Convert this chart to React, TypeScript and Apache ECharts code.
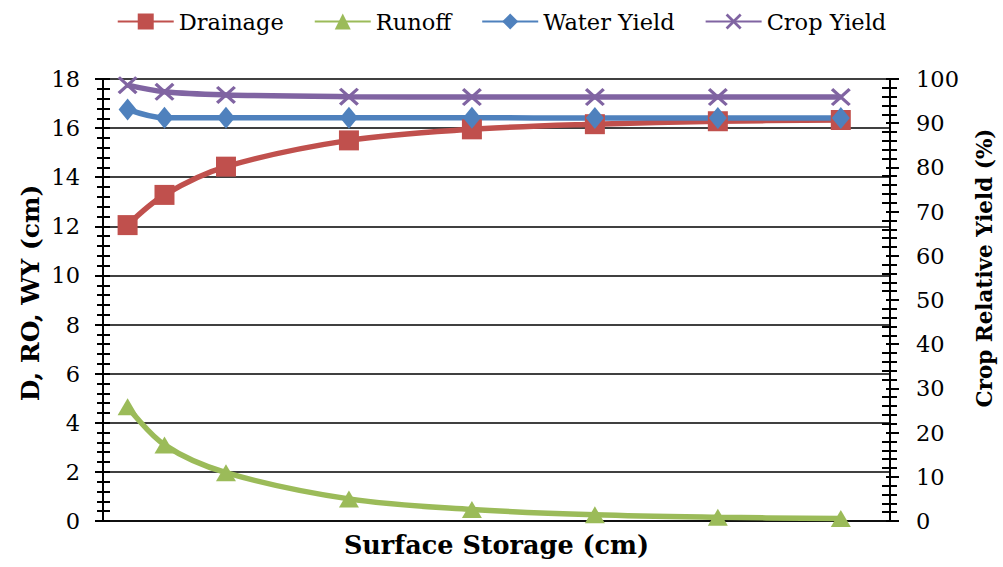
import React, { useEffect, useRef } from "react";
import * as echarts from "echarts";

const storage = [0.2, 0.5, 1, 2, 3, 4, 5, 6];
const drainage = [12.05, 13.28, 14.43, 15.5, 15.95, 16.16, 16.28, 16.33];
const runoff = [4.65, 3.1, 1.97, 0.9, 0.47, 0.25, 0.15, 0.1];
const waterYield = [16.76, 16.42, 16.42, 16.42, 16.42, 16.41, 16.41, 16.41];
const cropYield = [98.6, 97.1, 96.4, 96.0, 95.9, 95.9, 95.9, 95.9];
const seriesNames = ["Drainage", "Runoff", "Water Yield", "Crop Yield"];
const leftTitle = "D, RO, WY (cm)";
const rightTitle = "Crop Relative Yield (%)";
const bottomTitle = "Surface Storage (cm)";

const FONT = "DejaVu Serif";
const X_SYMBOL = "path://M0,1.2L1.2,0L10,8.8L8.8,10Z M8.8,0L10,1.2L1.2,10L0,8.8Z";

export default function App() {
  const ref = useRef<HTMLDivElement>(null);
  useEffect(() => {
    if (!ref.current) return;
    const chart = echarts.init(ref.current, null, { renderer: "svg" });
    const pair = (ys: number[]) => storage.map((x, i) => [x, ys[i]]);
    const lineSeries = (
      name: string,
      ys: number[],
      color: string,
      symbol: string,
      size: number | number[],
      yAxisIndex: number
    ) => ({
      name,
      type: "line",
      data: pair(ys),
      yAxisIndex,
      smooth: 0.35,
      symbol,
      symbolSize: size,
      lineStyle: { color, width: 5.5 },
      itemStyle: { color },
      z: 3,
    });
    const black = "#000";
    chart.setOption({
      animation: false,
      grid: { left: 103, right: 113, top: 79, bottom: 46, containLabel: false },
      legend: {
        top: 5,
        left: "center",
        itemWidth: 56,
        itemHeight: 20,
        itemGap: 30,
        data: seriesNames,
        textStyle: { fontFamily: FONT, fontSize: 22.5, color: black },
      },
      graphic: [
        {
          type: "text",
          x: 30,
          y: 293,
          rotation: Math.PI / 2,
          style: {
            text: leftTitle,
            align: "center",
            verticalAlign: "middle",
            fontFamily: FONT,
            fontSize: 25,
            fontWeight: "bold",
            fill: black,
          },
        },
        {
          type: "text",
          x: 984,
          y: 268,
          rotation: Math.PI / 2,
          style: {
            text: rightTitle,
            align: "center",
            verticalAlign: "middle",
            fontFamily: FONT,
            fontSize: 21.5,
            fontWeight: "bold",
            fill: black,
          },
        },
      ],
      xAxis: {
        type: "value",
        min: 0,
        max: 6.4,
        name: bottomTitle,
        nameLocation: "middle",
        nameGap: 11,
        nameTextStyle: {
          fontFamily: FONT,
          fontSize: 25.5,
          fontWeight: "bold",
          color: black,
          verticalAlign: "top",
        },
        axisLine: { show: true, lineStyle: { color: black, width: 1.5 } },
        axisTick: { show: false },
        axisLabel: { show: false },
        splitLine: { show: false },
      },
      yAxis: [
        {
          type: "value",
          position: "left",
          min: 0,
          max: 18,
          interval: 2,
          axisLine: { show: true, lineStyle: { color: black, width: 2 } },
          axisTick: { show: true, length: 8, lineStyle: { color: black, width: 2 } },
          minorTick: { show: true, splitNumber: 5, length: 6, lineStyle: { color: black, width: 2 } },
          axisLabel: { fontFamily: FONT, fontSize: 22.5, color: black, margin: 23 },
          splitLine: { show: true, lineStyle: { color: black, width: 1.5 } },
        },
        {
          type: "value",
          position: "right",
          min: 0,
          max: 100,
          interval: 10,
          axisLine: { show: true, lineStyle: { color: black, width: 2 } },
          axisTick: { show: true, length: 9, lineStyle: { color: black, width: 2 } },
          minorTick: { show: true, splitNumber: 5, length: 7, lineStyle: { color: black, width: 2 } },
          axisLabel: { fontFamily: FONT, fontSize: 22.5, color: black, margin: 26 },
          splitLine: { show: false },
        },
        {
          type: "value",
          position: "left",
          min: 0,
          max: 18,
          interval: 2,
          axisLine: { show: false },
          axisTick: { show: true, inside: true, length: 7, lineStyle: { color: black, width: 2 } },
          minorTick: { show: true, splitNumber: 5, length: 7, lineStyle: { color: black, width: 2 } },
          axisLabel: { show: false },
          splitLine: { show: false },
        },
        {
          type: "value",
          position: "right",
          min: 0,
          max: 100,
          interval: 10,
          axisLine: { show: false },
          axisTick: { show: true, inside: true, length: 4, lineStyle: { color: black, width: 2 } },
          minorTick: { show: true, splitNumber: 5, length: 8, lineStyle: { color: black, width: 2 } },
          axisLabel: { show: false },
          splitLine: { show: false },
        },
      ],
      series: [
        lineSeries("Drainage", drainage, "#C0504D", "rect", 20, 0),
        lineSeries("Runoff", runoff, "#9BBB59", "triangle", [20, 17], 0),
        lineSeries("Water Yield", waterYield, "#4F81BD", "diamond", [18, 22], 0),
        lineSeries("Crop Yield", cropYield, "#8064A2", X_SYMBOL, [20, 18], 1),
      ],
    });
    return () => chart.dispose();
  }, []);
  return (
    <div
      ref={ref}
      style={{ position: "fixed", left: 0, top: 0, width: 1003, height: 567, background: "#fff" }}
    />
  );
}
